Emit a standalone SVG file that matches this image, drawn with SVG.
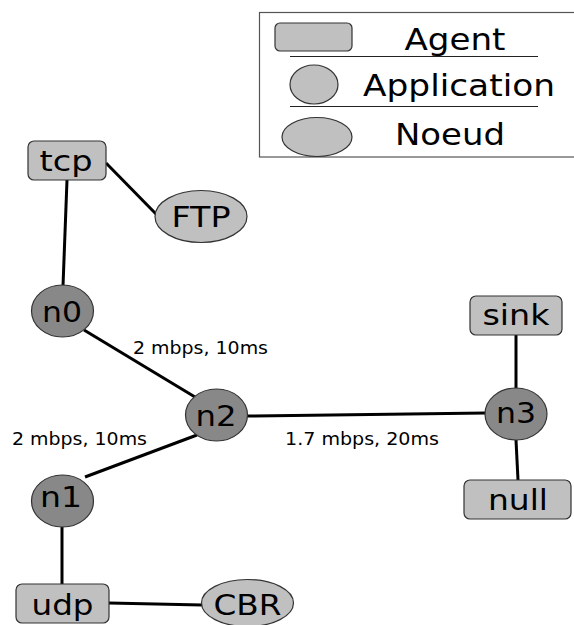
<svg xmlns="http://www.w3.org/2000/svg" width="574" height="625" viewBox="0 0 574 625">
  <style>
    .agent { fill: #c0c0c0; stroke: #333; stroke-width: 1.2; }
    .app { fill: #c0c0c0; stroke: #333; stroke-width: 1.2; }
    .node { fill: #888888; stroke: #333; stroke-width: 1.2; }
    .lbl { font-family: "DejaVu Sans", sans-serif; font-size: 29px; fill: #000; text-anchor: middle; }
    .nlbl { font-family: "DejaVu Sans", sans-serif; font-size: 28px; fill: #000; text-anchor: middle; }
    .leg { font-family: "DejaVu Sans", sans-serif; font-size: 31px; fill: #000; text-anchor: middle; }
    .elbl { font-family: "DejaVu Sans", sans-serif; font-size: 18px; fill: #000; }
    .edge { stroke: #000; stroke-width: 3; fill: none; }
    .sep { stroke: #222; stroke-width: 1.2; }
  </style>
  <rect width="574" height="625" fill="#fff"/>

  <!-- legend -->
  <g id="legend">
    <rect x="259.5" y="12.5" width="330" height="144.5" fill="#fff" stroke="#555" stroke-width="1.2"/>
    <rect class="agent" x="275" y="23" width="77" height="28" rx="5"/>
    <text class="leg" x="455" y="50" textLength="101" lengthAdjust="spacingAndGlyphs">Agent</text>
    <line class="sep" x1="290" y1="56.5" x2="538" y2="56.5"/>
    <ellipse class="app" cx="314" cy="84.5" rx="24" ry="19.5"/>
    <text class="leg" x="459" y="96" textLength="192" lengthAdjust="spacingAndGlyphs">Application</text>
    <line class="sep" x1="290" y1="106.5" x2="538" y2="106.5"/>
    <ellipse class="app" cx="317" cy="137" rx="35" ry="19.5"/>
    <text class="leg" x="450" y="145" textLength="110" lengthAdjust="spacingAndGlyphs">Noeud</text>
  </g>

  <!-- links -->
  <g id="connectors">
    <line class="edge" x1="106" y1="163" x2="157" y2="215"/>
    <line class="edge" x1="67" y1="180" x2="63" y2="286"/>
    <line class="edge" x1="84" y1="330" x2="195" y2="397"/>
    <line class="edge" x1="85" y1="477" x2="197" y2="435"/>
    <line class="edge" x1="247" y1="416" x2="486" y2="413"/>
    <line class="edge" x1="516" y1="335" x2="516" y2="389"/>
    <line class="edge" x1="516" y1="440" x2="518" y2="480"/>
    <line class="edge" x1="62" y1="527" x2="62" y2="584"/>
    <line class="edge" x1="109" y1="603" x2="202" y2="605"/>
    <text class="elbl" x="133" y="354" textLength="135" lengthAdjust="spacingAndGlyphs">2 mbps, 10ms</text>
    <text class="elbl" x="12" y="445" textLength="135" lengthAdjust="spacingAndGlyphs">2 mbps, 10ms</text>
    <text class="elbl" x="285" y="445" textLength="154" lengthAdjust="spacingAndGlyphs">1.7 mbps, 20ms</text>
  </g>

  <g id="tcp">
    <rect class="agent" x="28" y="141" width="78" height="39" rx="6"/>
    <text class="lbl" x="66" y="170.5" textLength="53" lengthAdjust="spacingAndGlyphs">tcp</text>
  </g>
  <g id="ftp">
    <ellipse class="app" cx="201" cy="216.5" rx="46" ry="26"/>
    <text class="lbl" x="201" y="227" textLength="59" lengthAdjust="spacingAndGlyphs">FTP</text>
  </g>
  <g id="n0">
    <ellipse class="node" cx="62.5" cy="311" rx="31" ry="26"/>
    <text class="nlbl" x="62" y="322" textLength="40" lengthAdjust="spacingAndGlyphs">n0</text>
  </g>
  <g id="n2">
    <ellipse class="node" cx="216.5" cy="415" rx="31" ry="26"/>
    <text class="nlbl" x="216" y="426" textLength="41" lengthAdjust="spacingAndGlyphs">n2</text>
  </g>
  <g id="n1">
    <ellipse class="node" cx="62.5" cy="501" rx="31" ry="26"/>
    <text class="nlbl" x="61" y="507" textLength="42" lengthAdjust="spacingAndGlyphs">n1</text>
  </g>
  <g id="n3">
    <ellipse class="node" cx="516" cy="414" rx="31" ry="26"/>
    <text class="nlbl" x="516" y="423" textLength="40" lengthAdjust="spacingAndGlyphs">n3</text>
  </g>
  <g id="sink">
    <rect class="agent" x="470" y="296" width="92" height="39" rx="6"/>
    <text class="lbl" x="516" y="325" textLength="67" lengthAdjust="spacingAndGlyphs">sink</text>
  </g>
  <g id="null">
    <rect class="agent" x="464" y="480" width="107" height="39" rx="6"/>
    <text class="lbl" x="518" y="510" textLength="60" lengthAdjust="spacingAndGlyphs">null</text>
  </g>
  <g id="udp">
    <rect class="agent" x="16" y="584" width="93" height="39" rx="6"/>
    <text class="lbl" x="62.5" y="615" textLength="62" lengthAdjust="spacingAndGlyphs">udp</text>
  </g>
  <g id="cbr">
    <ellipse class="app" cx="247.5" cy="603" rx="46" ry="23.5"/>
    <text class="lbl" x="247.5" y="615" textLength="68" lengthAdjust="spacingAndGlyphs">CBR</text>
  </g>
</svg>
